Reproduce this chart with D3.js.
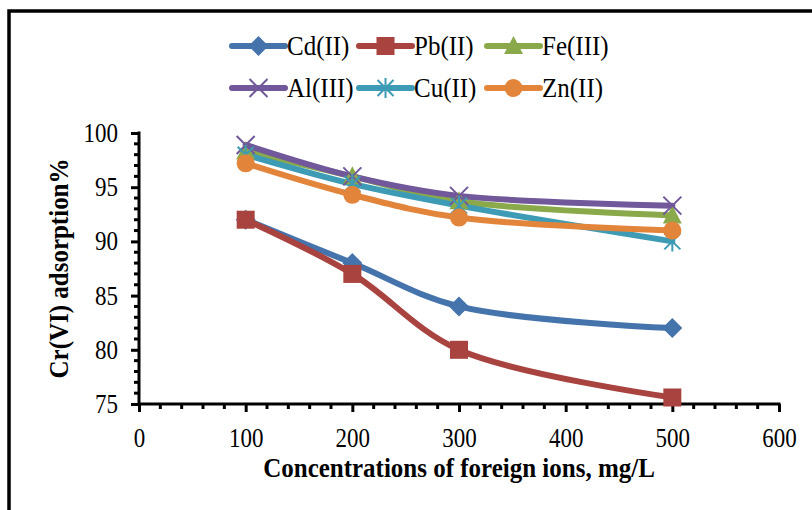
<!DOCTYPE html>
<html>
<head>
<meta charset="utf-8">
<script src="https://cdn.jsdelivr.net/npm/d3@7/dist/d3.min.js"></script>
<style>
  html, body { margin: 0; padding: 0; background: #fff; }
  svg { display: block; }
  text { font-family: "Times New Roman", Times, "Liberation Serif", serif; fill: #000; }
</style>
</head>
<body>
<script>
// Concentration of foreign ion (mg/L)
const concentrations = [100, 200, 300, 500];

// Cr(VI) adsorption % in presence of each ion
const cdValues = [92.0, 88.0, 84.0, 82.0];
const pbValues = [92.0, 87.0, 80.0, 75.6];
const feValues = [98.3, 96.0, 93.7, 92.4];
const alValues = [98.9, 96.0, 94.2, 93.3];
const cuValues = [98.0, 95.3, 93.3, 90.0];
const znValues = [97.2, 94.3, 92.2, 91.0];

const seriesNames = ["Cd(II)", "Pb(II)", "Fe(III)", "Al(III)", "Cu(II)", "Zn(II)"];
const xTicks = [0, 100, 200, 300, 400, 500, 600];
const yTicks = [75, 80, 85, 90, 95, 100];

const series = [
  { name: seriesNames[0], values: cdValues, color: "#4573AB", marker: "diamond" },
  { name: seriesNames[1], values: pbValues, color: "#A9433F", marker: "square" },
  { name: seriesNames[2], values: feValues, color: "#8AA94A", marker: "triangle" },
  { name: seriesNames[3], values: alValues, color: "#71589A", marker: "cross" },
  { name: seriesNames[4], values: cuValues, color: "#3E9BB5", marker: "star" },
  { name: seriesNames[5], values: znValues, color: "#E3843B", marker: "circle" }
];

const FONT = '"Times New Roman", Times, "Liberation Serif", serif';
const W = 812, H = 510;
const plot = { left: 139, right: 779, top: 133, bottom: 404 };
const TALL = 1.15; // vertical stretch of the tick lettering

const svg = d3.select("body").append("svg").attr("width", W).attr("height", H);

// chart frame
svg.append("rect")
  .attr("x", 9).attr("y", 11)
  .attr("width", W + 20).attr("height", H + 20)
  .attr("fill", "none").attr("stroke", "#000").attr("stroke-width", 3.5);

const x = d3.scaleLinear().domain([0, 600]).range([plot.left, plot.right]);
const y = d3.scaleLinear().domain([75, 100]).range([plot.bottom, plot.top]);

// minor ticks
const xMinor = d3.range(0, 601, 20).filter(v => v % 100 !== 0);
const yMinor = d3.range(75, 100.01, 1).filter(v => v % 5 !== 0);

const axes = svg.append("g");
axes.selectAll(".xminor").data(xMinor).join("line")
  .attr("x1", d => x(d)).attr("x2", d => x(d))
  .attr("y1", plot.bottom).attr("y2", plot.bottom + 5)
  .attr("stroke", "#000").attr("stroke-width", 3);
axes.selectAll(".yminor").data(yMinor).join("line")
  .attr("x1", plot.left - 5).attr("x2", plot.left)
  .attr("y1", d => y(d)).attr("y2", d => y(d))
  .attr("stroke", "#000").attr("stroke-width", 3);

// major ticks + labels via d3 axes
const xAxis = d3.axisBottom(x).tickValues(xTicks).tickSize(8).tickPadding(13);
const yAxis = d3.axisLeft(y).tickValues(yTicks).tickSize(8).tickPadding(13);

const gx = svg.append("g").attr("transform", `translate(0,${plot.bottom})`).call(xAxis);
const gy = svg.append("g").attr("transform", `translate(${plot.left},0)`).call(yAxis);
[gx, gy].forEach(g => {
  g.attr("font-family", null);
  g.select(".domain").remove();
  g.selectAll(".tick line").attr("stroke", "#000").attr("stroke-width", 3);
  g.selectAll(".tick text")
    .style("font-family", FONT)
    .style("font-size", "23px").attr("fill", "#000")
    .attr("transform", `scale(1,${TALL})`);
});

// axis lines
svg.append("line").attr("x1", plot.left).attr("x2", plot.right + 1.5)
  .attr("y1", plot.bottom).attr("y2", plot.bottom)
  .attr("stroke", "#000").attr("stroke-width", 3);
svg.append("line").attr("x1", plot.left).attr("x2", plot.left)
  .attr("y1", plot.top - 1.5).attr("y2", plot.bottom + 1.5)
  .attr("stroke", "#000").attr("stroke-width", 3);

// axis titles
svg.append("text")
  .attr("transform", `translate(${(plot.left + plot.right) / 2},477) scale(1,1.08)`)
  .attr("text-anchor", "middle")
  .style("font-family", FONT)
  .style("font-size", "25px").style("font-weight", "bold")
  .text("Concentrations of foreign ions, mg/L");
svg.append("text")
  .attr("transform", `translate(68,${(plot.top + plot.bottom) / 2}) rotate(-90) scale(1,1.08)`)
  .attr("text-anchor", "middle")
  .style("font-family", FONT)
  .style("font-size", "25px").style("font-weight", "bold")
  .text("Cr(VI) adsorption%");

// marker drawing
function drawMarker(g, type, color) {
  switch (type) {
    case "diamond":
      g.append("path").attr("d", "M0,-10L10,0L0,10L-10,0Z").attr("fill", color);
      break;
    case "square":
      g.append("rect").attr("x", -9).attr("y", -9)
        .attr("width", 18).attr("height", 18).attr("fill", color);
      break;
    case "triangle":
      g.append("path").attr("d", "M0,-10L9.5,8L-9.5,8Z").attr("fill", color);
      break;
    case "circle":
      g.append("circle").attr("r", 9).attr("fill", color);
      break;
    case "cross":
      g.append("path").attr("d", "M-9,-9L9,9M9,-9L-9,9")
        .attr("stroke", color).attr("stroke-width", 2);
      break;
    case "star":
      g.append("path").attr("d", "M-8,-8L8,8M8,-8L-8,8M0,-10L0,10")
        .attr("stroke", color).attr("stroke-width", 2);
      break;
  }
}

const line = d3.line()
  .x(d => x(d[0])).y(d => y(d[1]))
  .curve(d3.curveCatmullRom.alpha(0.5));

const marks = svg.append("g");
series.forEach(s => {
  const pts = concentrations.map((c, i) => [c, s.values[i]]);
  marks.append("path").datum(pts)
    .attr("d", line)
    .attr("fill", "none").attr("stroke", s.color)
    .attr("stroke-width", 6).attr("stroke-linecap", "round");
});
series.forEach(s => {
  concentrations.forEach((c, i) => {
    const g = marks.append("g").attr("transform", `translate(${x(c)},${y(s.values[i])})`);
    drawMarker(g, s.marker, s.color);
  });
});

// legend
const legendCols = [232, 359, 487];
const legendRows = [46, 88];
series.forEach((s, i) => {
  const lx = legendCols[i % 3], ly = legendRows[Math.floor(i / 3)];
  const g = svg.append("g").attr("transform", `translate(${lx},${ly})`);
  g.append("line").attr("x1", 0).attr("x2", 53).attr("y1", 0).attr("y2", 0)
    .attr("stroke", s.color).attr("stroke-width", 6).attr("stroke-linecap", "round");
  const m = g.append("g").attr("transform", "translate(26.5,0)");
  drawMarker(m, s.marker, s.color);
  g.append("text")
    .attr("transform", `translate(55,0) scale(1,1.1)`)
    .attr("y", 8)
    .style("font-family", FONT)
    .style("font-size", "25px").text(s.name);
});
</script>
</body>
</html>
